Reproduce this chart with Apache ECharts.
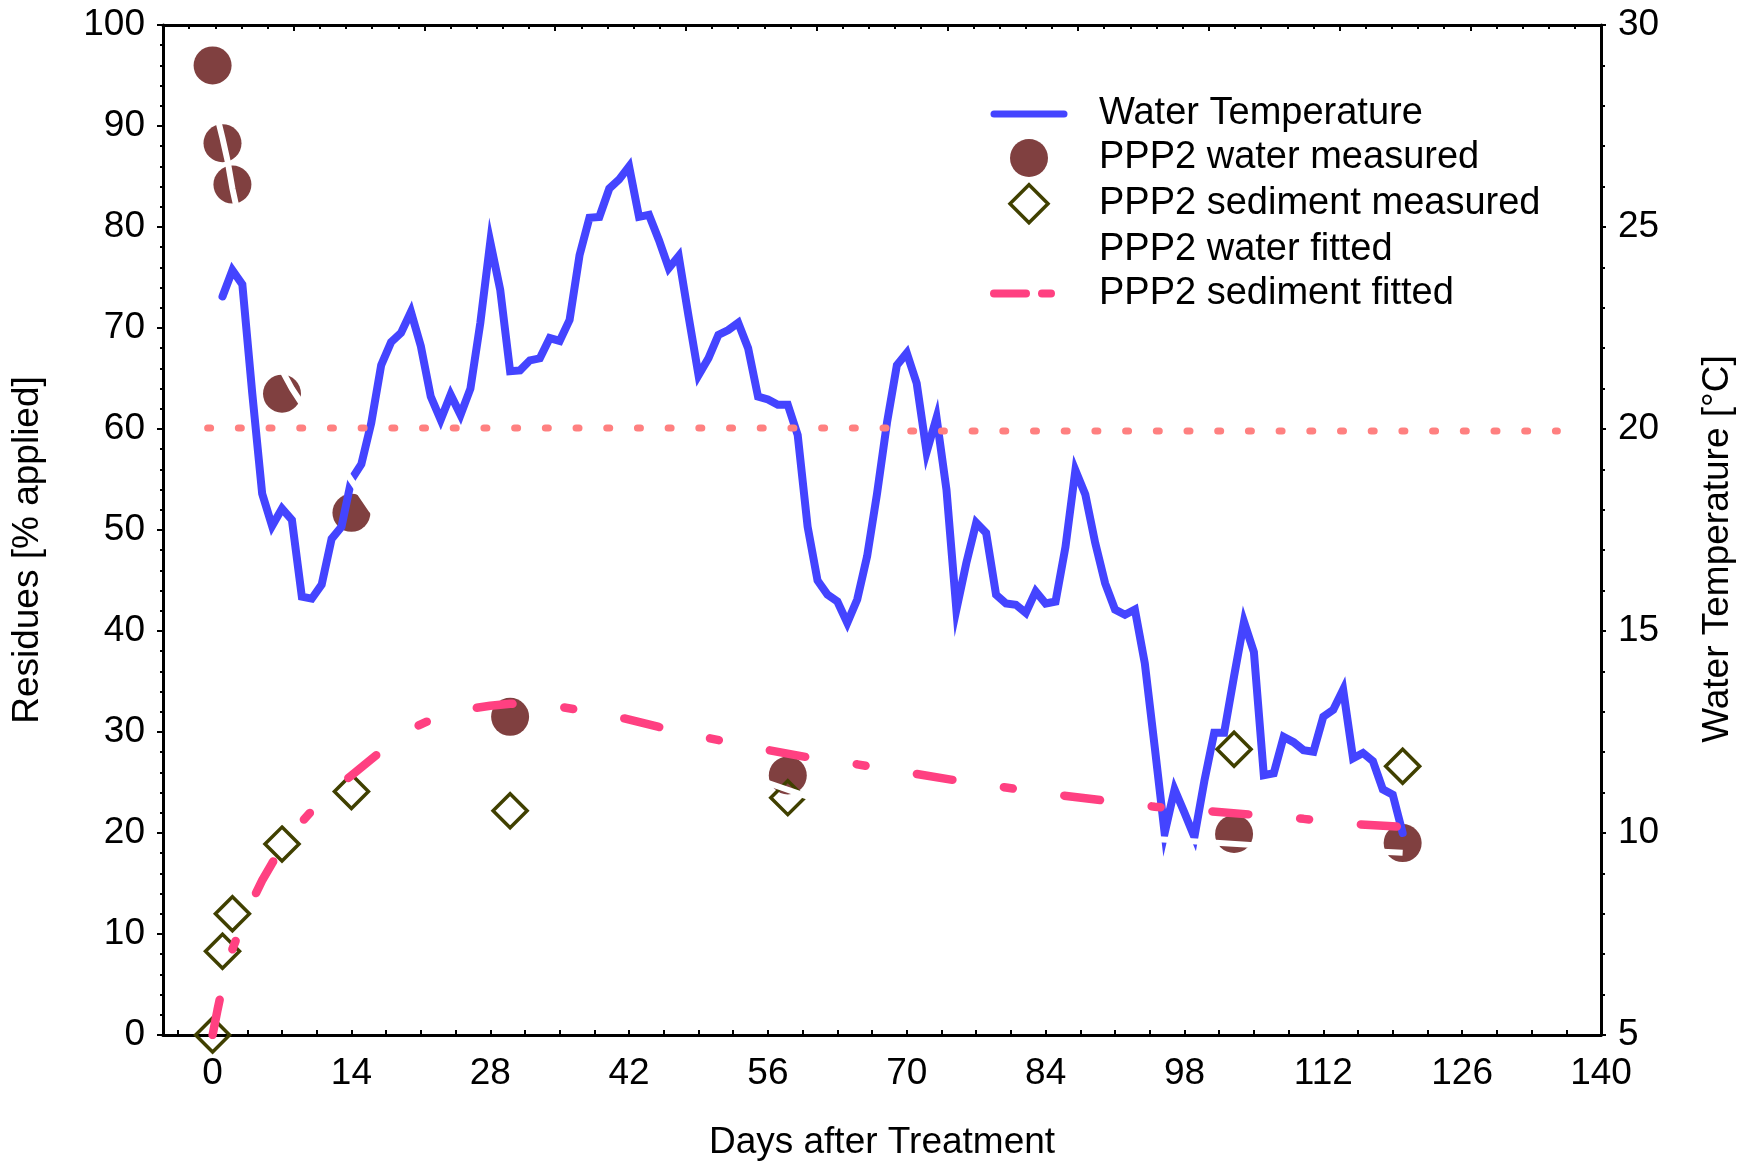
<!DOCTYPE html>
<html><head><meta charset="utf-8">
<script src="https://cdn.jsdelivr.net/npm/echarts@6/dist/echarts.min.js"></script>
<style>html,body{margin:0;padding:0;background:#fff}#c{width:1746px;height:1163px}</style>
</head><body><div id="c"></div>
<script>
// ---- data ----
const tempDays = [];
for (let d = 1; d <= 120; d++) tempDays.push(d);
const waterTemp = [
  23.28,23.93,23.58,20.88,18.40,17.60,18.03,17.75,15.85,15.80,
  16.15,17.28,17.58,18.75,19.13,20.15,21.58,22.15,22.38,22.90,
  22.05,20.80,20.23,20.85,20.35,21.00,22.63,24.63,23.45,21.43,
  21.45,21.70,21.75,22.25,22.18,22.70,24.30,25.23,25.25,25.95,
  26.18,26.50,25.25,25.30,24.68,23.98,24.28,22.78,21.33,21.75,
  22.33,22.45,22.63,22.00,20.80,20.73,20.60,20.60,19.85,17.58,
  16.25,15.90,15.73,15.20,15.78,16.85,18.40,20.15,21.58,21.88,
  21.13,19.43,20.28,18.50,15.53,16.68,17.68,17.43,15.90,15.68,
  15.65,15.45,15.98,15.68,15.73,17.08,18.98,18.38,17.18,16.18,
  15.53,15.40,15.53,14.20,12.13,10.00,11.08,10.50,9.90,11.28,
  12.48,12.48,13.88,15.23,14.48,11.43,11.48,12.38,12.25,12.05,
  12.01,12.88,13.05,13.55,11.85,11.98,11.78,11.08,10.95,10.00
];
const measuredDays = [0, 1, 2, 7, 14, 30, 58, 103, 120];
const waterMeasured = [96.0, 88.3, 84.2, 63.5, 51.7, 31.5, 25.7, 19.9, 19.0];
const sedimentMeasured = [0.0, 8.3, 12.0, 18.9, 24.1, 22.2, 23.5, 28.3, 26.6];
const fitDays = [0,0.5,1,1.5,2,3,4,5,6,7,8,9,10,12,14,16,18,20,22,24,26,28,30,32,35,40,45,50,55,60,65,70,75,80,85,90,95,100,105,110,115,120];
const waterFitted = [93.0,90.8,88.8,86.6,83.8,79.3,75.4,71.9,68.7,65.8,64.0,62.5,60.9,57.8,54.9,52.0,49.4,47.0,44.8,42.8,40.9,39.2,37.6,36.1,34.1,31.2,28.9,27.0,25.3,23.6,22.6,21.8,21.1,20.5,20.1,19.7,19.4,19.1,18.8,18.5,18.3,18.05];
const sedimentFitted = [0.0,2.5,4.8,6.8,8.5,11.0,13.3,15.3,17.0,18.6,19.9,21.1,22.2,24.1,25.7,27.3,28.9,30.3,31.2,31.8,32.3,32.6,32.8,32.8,32.5,31.7,30.5,29.4,28.4,27.5,26.8,26.0,25.2,24.5,23.8,23.2,22.6,22.2,21.8,21.4,20.9,20.6];
const refDays = [-0.5, 69, 69, 135.6];
const refValues = [60.1, 60.1, 59.8, 59.8];
const xTicks = [0, 14, 28, 42, 56, 70, 84, 98, 112, 126, 140];
const names = ['Water Temperature','PPP2 water measured','PPP2 sediment measured','PPP2 water fitted','PPP2 sediment fitted'];
const xTitle = 'Days after Treatment';
const yTitle = 'Residues [% applied]';
const y2Title = 'Water Temperature [°C]';

// ---- chart ----
const FONT = '"Liberation Sans", Arial, sans-serif';
const FS = 37;
const xMinor = [];
for (let v = -3.5; v <= 140.01; v += 3.5) xMinor.push(+v.toFixed(2));
const zip = (a, b) => a.map((x, i) => [x, b[i]]);
const noSym = {opacity: 0, color: 'rgba(0,0,0,0)', borderWidth: 0};

const chart = echarts.init(document.getElementById('c'), null, {renderer: 'canvas'});
chart.setOption({
  animation: false,
  backgroundColor: '#ffffff',
  grid: {left: 163, right: 145, top: 25, bottom: 128, containLabel: false},
  xAxis: [{
    type: 'value', min: -5, max: 140, position: 'bottom',
    axisLine: {onZero: false, lineStyle: {color: '#000', width: 3}},
    axisTick: {customValues: xMinor, inside: true, length: 5, lineStyle: {color: '#000', width: 2}},
    axisLabel: {customValues: xTicks, color: '#000', fontSize: FS, fontFamily: FONT, margin: 20},
    splitLine: {show: false}
  }, {
    type: 'value', min: 0, max: 11, interval: 1, position: 'top',
    axisLine: {onZero: false, lineStyle: {color: '#000', width: 3}},
    axisTick: {inside: true, length: 6, lineStyle: {color: '#000', width: 2}},
    minorTick: {show: true, splitNumber: 5, length: 4, lineStyle: {color: '#000', width: 2}},
    axisLabel: {show: false}, splitLine: {show: false}
  }],
  yAxis: [{
    type: 'value', min: 0, max: 100, interval: 10, position: 'left',
    axisLine: {show: true, onZero: false, lineStyle: {color: '#000', width: 3}},
    axisTick: {show: true, inside: false, length: 6, lineStyle: {color: '#000', width: 2}},
    minorTick: {show: true, splitNumber: 5, length: 3, lineStyle: {color: '#000', width: 2}},
    axisLabel: {color: '#000', fontSize: FS, fontFamily: FONT, margin: 18},
    splitLine: {show: false}
  }, {
    type: 'value', min: 5, max: 30, interval: 5, position: 'right',
    axisLine: {show: true, onZero: false, lineStyle: {color: '#000', width: 3}},
    axisTick: {show: true, inside: false, length: 5, lineStyle: {color: '#000', width: 2}},
    minorTick: {show: true, splitNumber: 5, length: 4, lineStyle: {color: '#000', width: 2}},
    axisLabel: {color: '#000', fontSize: FS, fontFamily: FONT, margin: 17},
    splitLine: {show: false}
  }],
  legend: {
    orient: 'vertical', left: 985, top: 90,
    itemWidth: 70, itemHeight: 38, itemGap: 6,
    selectedMode: false, symbolKeepAspect: true,
    textStyle: {fontSize: 38, fontFamily: FONT, color: '#000', lineHeight: 38, padding: [0, 0, 0, 30]},
    data: [
      {name: names[0], itemStyle: noSym, lineStyle: {width: 7, cap: 'round', color: '#4444ff'}},
      {name: names[1]},
      {name: names[2], icon: 'path://M50,8L92,50L50,92L8,50Z',
       itemStyle: {color: 'rgba(255,255,255,0)', borderColor: '#404000', borderWidth: 3.5}},
      {name: names[3], itemStyle: noSym},
      {name: names[4], itemStyle: noSym, lineStyle: {type: [32, 16, 9, 100], width: 8, cap: 'round', color: '#ff4081'}}
    ]
  },
  graphic: [
    {type: 'text', x: 882, y: 1143, style: {text: xTitle, font: FS + 'px ' + FONT, fill: '#000', align: 'center', verticalAlign: 'middle', textAlign: 'center', textVerticalAlign: 'middle'}},
    {type: 'text', x: 28, y: 550, rotation: Math.PI / 2, style: {text: yTitle, font: FS + 'px ' + FONT, fill: '#000', align: 'center', verticalAlign: 'middle', textAlign: 'center', textVerticalAlign: 'middle'}},
    {type: 'text', x: 1718, y: 549, rotation: Math.PI / 2, style: {text: y2Title, font: FS + 'px ' + FONT, fill: '#000', align: 'center', verticalAlign: 'middle', textAlign: 'center', textVerticalAlign: 'middle'}}
  ],
  series: [
    {name: names[0], type: 'line', yAxisIndex: 1, data: zip(tempDays, waterTemp), symbol: 'none',
     lineStyle: {color: '#4444ff', width: 8, cap: 'round', join: 'miter'}, itemStyle: {color: '#4444ff'}},
    {name: 'ref', type: 'line', yAxisIndex: 0, data: zip(refDays, refValues), symbol: 'none',
     lineStyle: {color: '#ff8080', width: 7, type: [3, 27.7], cap: 'round'}},
    {name: names[1], type: 'scatter', yAxisIndex: 0, data: zip(measuredDays, waterMeasured), symbol: 'circle', symbolSize: 38,
     itemStyle: {color: '#804040', opacity: 1}},
    {name: names[2], type: 'scatter', yAxisIndex: 0, data: zip(measuredDays, sedimentMeasured), symbol: 'diamond', symbolSize: 34,
     symbolKeepAspect: true,
     itemStyle: {color: 'rgba(255,255,255,0)', borderColor: '#404000', borderWidth: 3.5, opacity: 1}},
    {name: names[3], type: 'line', yAxisIndex: 0, data: zip(fitDays, waterFitted), symbol: 'none',
     lineStyle: {color: '#ffffff', width: 6}, itemStyle: {color: '#ffffff'}},
    {name: names[4], type: 'line', yAxisIndex: 0, data: zip(fitDays, sedimentFitted), symbol: 'none',
     lineStyle: {color: '#ff4081', width: 8.5, type: [36, 52, 9, 52], cap: 'round'}, itemStyle: {color: '#ff4081'}}
  ]
});
</script></body></html>
